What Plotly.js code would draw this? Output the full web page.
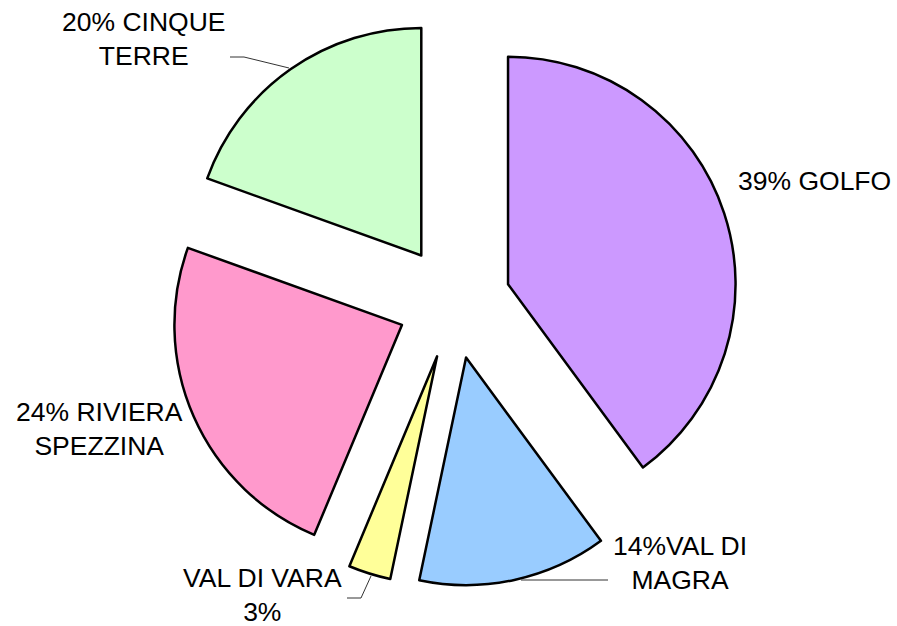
<!DOCTYPE html>
<html>
<head>
<meta charset="utf-8">
<script src="https://cdn.plot.ly/plotly-3.0.1.min.js"></script>
<style>html,body{margin:0;padding:0;background:#fff;}#chart{width:897px;height:626px;}</style>
</head>
<body>
<div id="chart"></div>
<script>
// Data
var labels = ['GOLFO', 'VAL DI MAGRA', 'VAL DI VARA', 'RIVIERA SPEZZINA', 'CINQUE TERRE'];
var values = [39.9, 13.4, 3.0, 24.2, 19.5];
var labelTexts = ['39% GOLFO', '14%VAL DI<br>MAGRA', 'VAL DI VARA<br>3%', '24% RIVIERA<br>SPEZZINA', '20% CINQUE<br>TERRE'];
var colors = ['#CC99FF', '#99CCFF', '#FFFF99', '#FF99CC', '#CCFFCC'];

// Label placement (pixel centres) and leader lines
var labelPos = [[814, 181], [680, 563], [262, 595], [99, 429], [143, 39]];
var leaders = [
  null,
  [[521, 580], [608, 580]],
  [[347, 598], [361, 598], [371, 576]],
  null,
  [[230, 57], [244, 57], [289, 68]]
];

var W = 897, H = 626;
function px(x) { return x / W; }
function py(y) { return 1 - y / H; }

var annotations = labelTexts.map(function (t, i) {
  return {
    text: t, xref: 'paper', yref: 'paper',
    x: px(labelPos[i][0]), y: py(labelPos[i][1]),
    xanchor: 'center', yanchor: 'middle', align: 'center',
    showarrow: false,
    font: {family: '"Liberation Sans", Arial, sans-serif', size: 26.5, color: '#000'}
  };
});

var shapes = [];
leaders.forEach(function (pts) {
  if (!pts) return;
  var d = pts.map(function (p, j) { return (j ? 'L' : 'M') + px(p[0]) + ',' + py(p[1]); }).join(' ');
  shapes.push({type: 'path', xref: 'paper', yref: 'paper', path: d,
    line: {color: '#333', width: 1}});
});

var cx = 454, cy = 302, halfH = 284.4, halfW = 300;
var trace = {
  type: 'pie',
  labels: labels,
  values: values,
  sort: false,
  direction: 'clockwise',
  rotation: 0,
  pull: values.map(function () { return 0.25; }),
  marker: {colors: colors, line: {color: '#000', width: 2.5}},
  textinfo: 'none',
  hoverinfo: 'label+percent',
  domain: {
    x: [px(cx - halfW), px(cx + halfW)],
    y: [py(cy + halfH), py(cy - halfH)]
  }
};

var layout = {
  width: W, height: H,
  margin: {l: 0, r: 0, t: 0, b: 0},
  paper_bgcolor: '#fff',
  showlegend: false,
  annotations: annotations,
  shapes: shapes
};

Plotly.newPlot('chart', [trace], layout, {displayModeBar: false, staticPlot: true});
</script>
</body>
</html>
